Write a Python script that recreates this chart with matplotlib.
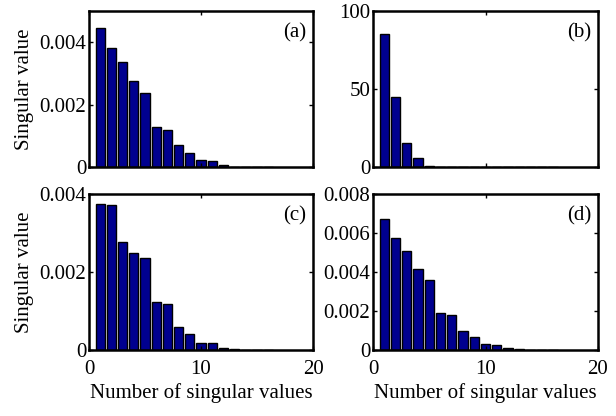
import matplotlib
matplotlib.use("Agg")
import matplotlib.pyplot as plt
import numpy as np

plt.rcParams['font.family'] = ['Liberation Serif', 'DejaVu Serif']
plt.rcParams['font.size'] = 15

idx = np.arange(1, 17)
vals_a = [4.47e-3, 3.82e-3, 3.38e-3, 2.76e-3, 2.36e-3, 1.29e-3, 1.19e-3, 0.69e-3,
          0.45e-3, 0.23e-3, 0.19e-3, 0.06e-3, 0.015e-3, 0.01e-3, 0.008e-3, 0.005e-3]
vals_b = [85, 44.6, 15.7, 6.0, 0.9, 0.25, 0.2, 0.2, 0.2, 0.2, 0.2, 0.2, 0.2, 0.2, 0.2, 0.2]
vals_c = [3.74e-3, 3.73e-3, 2.78e-3, 2.48e-3, 2.36e-3, 1.23e-3, 1.18e-3, 0.59e-3,
          0.41e-3, 0.19e-3, 0.17e-3, 0.04e-3, 0.015e-3, 0.01e-3, 0.008e-3, 0.005e-3]
vals_d = [6.71e-3, 5.75e-3, 5.06e-3, 4.13e-3, 3.57e-3, 1.92e-3, 1.78e-3, 0.99e-3,
          0.67e-3, 0.31e-3, 0.24e-3, 0.10e-3, 0.05e-3, 0.02e-3, 0.01e-3, 0.01e-3]

panels = [
    ("(a)", vals_a, 0.005, [0, 0.002, 0.004], ["0", "0.002", "0.004"]),
    ("(b)", vals_b, 100, [0, 50, 100], ["0", "50", "100"]),
    ("(c)", vals_c, 0.004, [0, 0.002, 0.004], ["0", "0.002", "0.004"]),
    ("(d)", vals_d, 0.008, [0, 0.002, 0.004, 0.006, 0.008],
     ["0", "0.002", "0.004", "0.006", "0.008"]),
]
xticks = [0, 10, 20]
xlabels = ["0", "10", "20"]

W, H = 616, 416
fig = plt.figure(figsize=(W / 100, H / 100), dpi=100)
boxes = [(89, 11, 313, 167), (373, 11, 598, 167), (89, 194, 313, 350), (373, 194, 598, 350)]

for i, ((lab, vals, ymax, yt, ytl), (l, t, r, b)) in enumerate(zip(panels, boxes)):
    ax = fig.add_axes([l / W, (H - b) / H, (r - l) / W, (b - t) / H])
    ax.bar(idx, vals, width=0.82, color='#00008F', edgecolor='black', linewidth=1.0)
    ax.set_xlim(0, 20)
    ax.set_ylim(0, ymax)
    ax.set_yticks(yt)
    ax.set_yticklabels(ytl)
    ax.set_xticks(xticks)
    if i >= 2:
        ax.set_xticklabels(xlabels)
        ax.set_xlabel("Number of singular values", labelpad=3)
    else:
        ax.set_xticklabels([])
    if i % 2 == 0:
        ax.set_ylabel("Singular value", labelpad=4)
    ax.tick_params(direction='in', top=True, right=True, length=3, width=1)
    ax.tick_params(axis='x', pad=7)
    ax.tick_params(axis='y', pad=2)
    for s in ax.spines.values():
        s.set_linewidth(1.8)
    ax.text(0.97, 0.92, lab, transform=ax.transAxes, ha='right', va='top')

fig.savefig("out.png", dpi=100)
